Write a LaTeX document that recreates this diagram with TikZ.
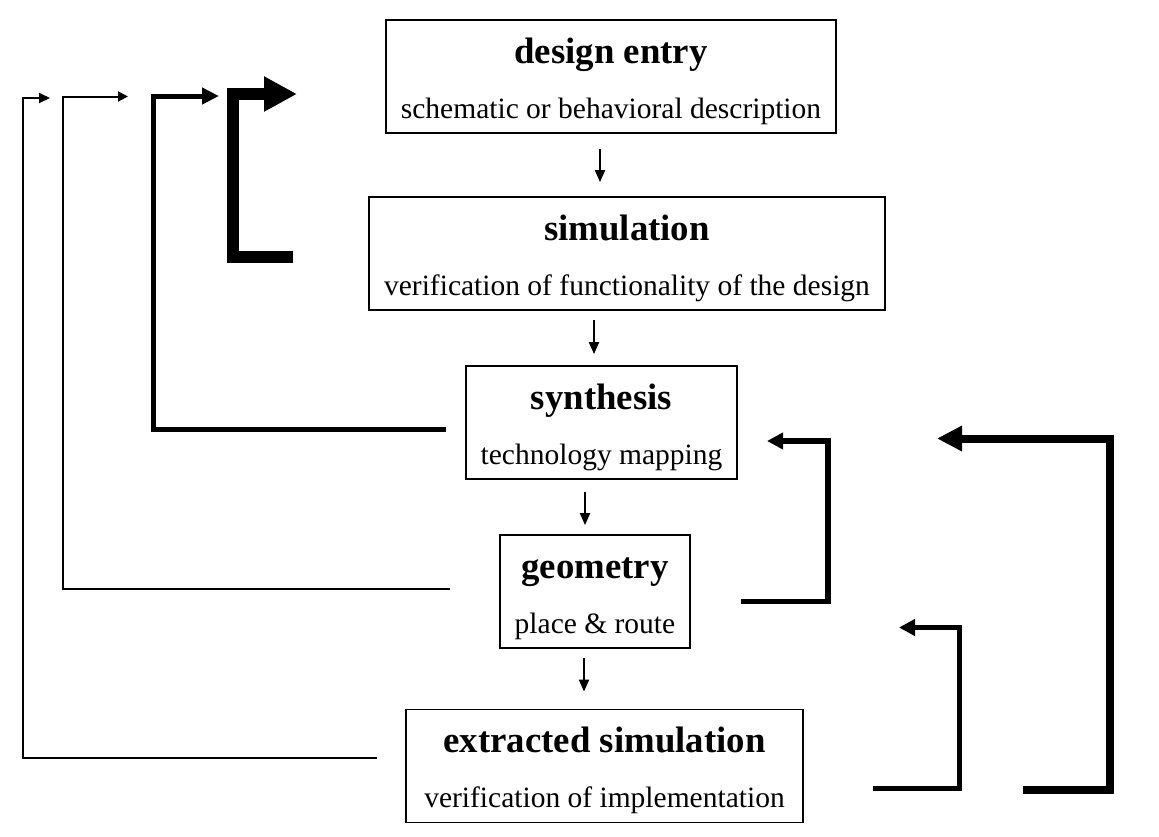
\documentclass[tikz,border=0pt]{standalone}
\usepackage{fontspec}
\setmainfont{Liberation Serif}
\usetikzlibrary{arrows.meta}
% title and subtitle of one stage
\newcommand\stagetext[2]{{\bfseries\fontsize{36.8}{55}\selectfont\rule{0pt}{38pt}#1}\\{\rule[-10pt]{0pt}{10pt}#2}}
\begin{document}
\begin{tikzpicture}[x=1pt, y=-1pt,
    stage/.style={draw, line width=1.8pt, inner sep=0pt, minimum height=113pt,
      align=center, font=\fontsize{29.5}{55}\selectfont},
    flow/.style={line width=2pt, -{Triangle[length=12pt,width=10pt]}},
    back/.style n args={3}{line width=#1, line join=miter, -{Triangle[length=#2,width=#3]}}]
    \useasboundingbox (0,0) rectangle (1159,836);
    % design flow
    \node[stage, minimum width=450pt] (entry) at (611,76.5) {\stagetext{design entry}{schematic or behavioral description}};
    \node[stage, minimum width=516pt] (sim) at (627,253.5) {\stagetext{simulation}{verification of functionality of the design}};
    \node[stage, minimum width=271pt] (synth) at (601.5,422.5) {\stagetext{synthesis}{technology mapping}};
    \node[stage, minimum width=190pt] (geom) at (595,591.5) {\stagetext{geometry}{place \& route}};
    \node[stage, minimum width=397pt] (ext) at (604.5,766) {\stagetext{extracted simulation}{verification of implementation}};
    \foreach \a/\b/\x/\s/\e in {entry/sim/600/15/14, sim/synth/594/9/11, synth/geom/585/12/9, geom/ext/584/9/17}
      \draw[flow, shorten <=\s pt, shorten >=\e pt] (\a.south -| \x,0) -- (\b.north -| \x,0);
    % loops back to the left
    \coordinate (out1) at (377,757.5); \coordinate (in1) at (50,98);
    \coordinate (out2) at (450,589);   \coordinate (in2) at (128,96.5);
    \coordinate (out3) at (446,429.5); \coordinate (in3) at (219,96);
    \coordinate (out4) at (293,256.5); \coordinate (in4) at (297,94);
    \draw[back={2pt}{11pt}{10pt}] (out1) -| (23,98) -- (in1);
    \draw[back={2pt}{10pt}{10pt}] (out2) -| (62.5,96.5) -- (in2);
    \draw[back={5pt}{17pt}{16pt}] (out3) -| (153,96) -- (in3);
    \draw[back={12pt}{33pt}{33pt}] (out4) -| (233,94) -- (in4);
    % loops back to the right
    \coordinate (out5) at (741,601.5);  \coordinate (in5) at (767,441);
    \coordinate (out6) at (873,788.5);  \coordinate (in6) at (899,627.5);
    \coordinate (out7) at (1023,789.5); \coordinate (in7) at (937,438.5);
    \draw[back={5.5pt}{16pt}{16pt}] (out5) -| (828,441) -- (in5);
    \draw[back={5pt}{16pt}{16pt}] (out6) -| (959.5,627.5) -- (in6);
    \draw[back={8pt}{25pt}{24pt}] (out7) -| (1110,438.5) -- (in7);
  \end{tikzpicture}
\end{document}
